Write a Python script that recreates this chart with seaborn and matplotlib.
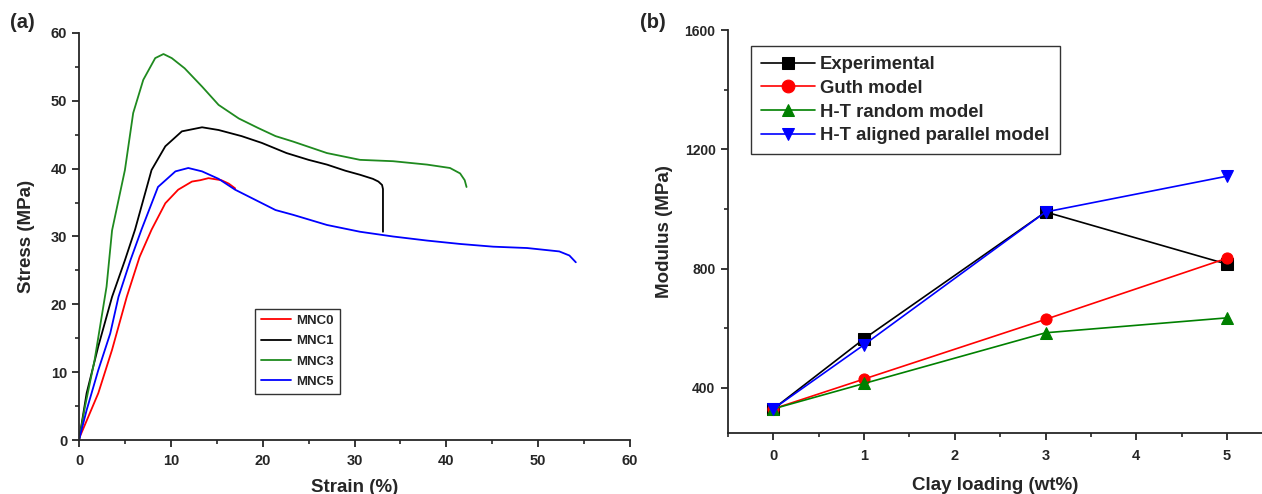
import matplotlib
matplotlib.use("Agg")
import matplotlib.pyplot as plt
from matplotlib.ticker import MultipleLocator
import seaborn as sns
import pandas as pd

# ---- (a) stress-strain curves ----
mnc0_strain = [0, 0.1, 2.1, 3.6, 5.2, 6.6, 7.9, 9.4, 10.8, 12.3, 13.2, 14.1, 15.5, 16.3, 17.0]
mnc0_stress = [0, 0.5, 6.9, 13.3, 21.1, 27.0, 31.0, 34.9, 36.9, 38.1, 38.3, 38.6, 38.3, 37.8, 37.1]

mnc1_strain = [0, 0.83, 2.1, 3.6, 5.0, 6.1, 7.9, 9.4, 11.2, 13.4, 15.2, 17.7, 19.9, 22.6,
               25.0, 27.0, 29.0, 30.6, 32.0, 32.6, 33.0, 33.1, 33.1]
mnc1_stress = [0, 6.9, 13.8, 21.1, 26.5, 31.0, 39.8, 43.3, 45.5, 46.1, 45.7, 44.8, 43.8, 42.3,
               41.3, 40.6, 39.7, 39.1, 38.5, 38.1, 37.6, 37.0, 30.7]

mnc3_strain = [0, 0.65, 1.7, 3.0, 3.6, 5.0, 5.9, 7.0, 8.3, 9.2, 10.1, 11.5, 13.4, 15.2, 17.4,
               19.5, 21.4, 23.3, 27.0, 30.6, 34.2, 37.9, 40.4, 41.5, 42.0, 42.2]
mnc3_stress = [0, 4.9, 11.8, 22.6, 30.9, 39.8, 48.2, 53.1, 56.3, 56.9, 56.3, 54.8, 52.1, 49.4, 47.4,
               46.0, 44.8, 44.0, 42.3, 41.3, 41.1, 40.6, 40.1, 39.3, 38.3, 37.3]

mnc5_strain = [0, 0.83, 2.1, 3.4, 4.3, 5.6, 6.8, 8.6, 10.5, 11.9, 13.4, 15.2, 17.0, 19.2, 21.4,
               23.3, 27.0, 30.6, 34.2, 37.9, 41.5, 45.1, 48.8, 52.3, 53.4, 54.1]
mnc5_stress = [0, 4.4, 10.3, 15.7, 21.1, 26.5, 31.0, 37.3, 39.6, 40.1, 39.6, 38.5, 36.9, 35.4, 33.9,
               33.2, 31.7, 30.7, 30.0, 29.4, 28.9, 28.5, 28.3, 27.8, 27.2, 26.2]

# ---- (b) modulus vs clay loading ----
clay_loading = [0, 1, 3, 5]
modulus_experimental = [330, 565, 990, 815]
modulus_guth = [330, 430, 630, 835]
modulus_ht_random = [330, 415, 585, 635]
modulus_ht_aligned = [330, 545, 990, 1110]

sns.set_theme(style="ticks")
plt.rcParams["font.family"] = ["Liberation Sans", "DejaVu Sans"]
plt.rcParams["font.weight"] = "bold"
plt.rcParams["axes.labelweight"] = "bold"
plt.rcParams["axes.linewidth"] = 1.3
plt.rcParams["xtick.direction"] = "out"
plt.rcParams["ytick.direction"] = "out"

W, H = 1262, 494
fig = plt.figure(figsize=(W / 100, H / 100), dpi=100)

# panel (a)
ax1 = fig.add_axes([79 / W, 1 - 440 / H, (630 - 79) / W, (440 - 33) / H])
curves = [
    ("MNC0", mnc0_strain, mnc0_stress, "#ff0000"),
    ("MNC1", mnc1_strain, mnc1_stress, "#000000"),
    ("MNC3", mnc3_strain, mnc3_stress, "#1f8a1f"),
    ("MNC5", mnc5_strain, mnc5_stress, "#0000ff"),
]
for name, xs, ys, col in curves:
    df = pd.DataFrame({"strain": xs, "stress": ys})
    sns.lineplot(data=df, x="strain", y="stress", sort=False, estimator=None,
                 color=col, lw=1.3, label=name, ax=ax1)
ax1.set_xlim(0, 60)
ax1.set_ylim(0, 60)
ax1.xaxis.set_major_locator(MultipleLocator(10))
ax1.xaxis.set_minor_locator(MultipleLocator(5))
ax1.yaxis.set_major_locator(MultipleLocator(10))
ax1.yaxis.set_minor_locator(MultipleLocator(5))
ax1.tick_params(which="major", length=5, width=1.3, labelsize=10.5)
ax1.tick_params(axis="x", which="major", pad=5)
ax1.tick_params(which="minor", length=3, width=1.2)
ax1.set_xlabel("Strain (%)", fontsize=13.5, fontweight="bold", labelpad=8)
ax1.set_ylabel("Stress (MPa)", fontsize=13.5, fontweight="bold", labelpad=11)
for s in ("top", "right"):
    ax1.spines[s].set_visible(False)
leg1 = ax1.legend(loc="lower left", bbox_to_anchor=(0.319, 0.113), frameon=True, fancybox=False,
                  edgecolor="black", fontsize=9.5, handlelength=2.3, handletextpad=0.4,
                  borderpad=0.45, labelspacing=0.62, borderaxespad=0)
leg1.get_frame().set_linewidth(1.0)
fig.text(10 / W, 1 - 22 / H, "(a)", fontsize=14.5, fontweight="bold", va="center")

# panel (b)
ax2 = fig.add_axes([728 / W, 1 - 432.7 / H, (W - 728) / W, (432.7 - 30) / H])
series = [
    ("Experimental", modulus_experimental, "#000000", "s"),
    ("Guth model", modulus_guth, "#ff0000", "o"),
    ("H-T random model", modulus_ht_random, "#008000", "^"),
    ("H-T aligned parallel model", modulus_ht_aligned, "#0000ff", "v"),
]
for name, ys, col, mk in series:
    df = pd.DataFrame({"loading": clay_loading, "modulus": ys})
    sns.lineplot(data=df, x="loading", y="modulus", color=col, marker=mk, markersize=8,
                 markeredgecolor=col, lw=1.2, label=name, ax=ax2)
ax2.set_xlim(-0.5, 5.385)
ax2.set_ylim(250, 1600)
ax2.xaxis.set_major_locator(MultipleLocator(1))
ax2.xaxis.set_minor_locator(MultipleLocator(0.5))
ax2.yaxis.set_major_locator(MultipleLocator(400))
ax2.yaxis.set_minor_locator(MultipleLocator(200))
ax2.tick_params(which="major", length=5, width=1.3)
ax2.tick_params(axis="x", which="major", labelsize=10.5, pad=7)
ax2.tick_params(axis="y", which="major", labelsize=10, pad=4)
ax2.tick_params(which="minor", length=3, width=1.2)
ax2.set_xlabel("Clay loading (wt%)", fontsize=13.5, fontweight="bold", labelpad=10)
ax2.set_ylabel("Modulus (MPa)", fontsize=13.5, fontweight="bold", labelpad=8)
for s in ("top", "right"):
    ax2.spines[s].set_visible(False)
leg2 = ax2.legend(loc="upper left", bbox_to_anchor=(0.043, 0.96), frameon=True, fancybox=False,
                  edgecolor="black", fontsize=13.3, handlelength=2.9, handletextpad=0.3,
                  borderpad=0.55, labelspacing=0.36, borderaxespad=0, markerscale=1.15)
leg2.get_frame().set_linewidth(1.0)
fig.text(640 / W, 1 - 22 / H, "(b)", fontsize=14.5, fontweight="bold", va="center")

fig.savefig("out.png", dpi=100)
